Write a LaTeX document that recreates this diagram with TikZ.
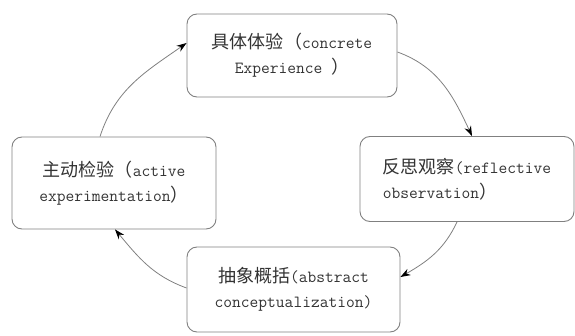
\documentclass[tikz,border=0pt]{standalone}
\usepackage{fontspec}
\newfontfamily\cjk[Scale=1.06]{Noto Sans CJK SC}
\usetikzlibrary{arrows.meta, positioning}

\begin{document}
\begin{tikzpicture}[
    x=1pt, y=1pt,
    stagebox/.style={rectangle, draw=black!50, line width=0.9pt, rounded corners=10pt, align=center, text=black!80, font=\ttfamily\fontsize{17}{25}\selectfont, inner sep=0pt},
    arrow/.style={-{Stealth[length=10pt, width=7pt, black]}, draw=black!50, line width=0.8pt}
]
\useasboundingbox (0,0) rectangle (575,335);

% Learning cycle stages
\node[stagebox, minimum width=210pt, minimum height=83pt] (concrete) at (292,279.5) {{\cjk 具体体验（}concrete\\Experience {\cjk ）}};
\node[stagebox, minimum width=214pt, minimum height=85pt, align=left] (reflective) at (467,156) {{\cjk 反思观察}(reflective\\observation{\cjk ）}};
\node[stagebox, minimum width=213pt, minimum height=85pt] (abstract) at (293.5,45.5) {{\cjk 抽象概括}(abstract\\conceptualization)};
\node[stagebox, minimum width=204pt, minimum height=92pt] (active) at (114,152) {{\cjk 主动检验（}active\\experimentation{\cjk ）}};

% Clockwise arrows
\draw[arrow] ([xshift=-14pt]active.north) to[out=72, in=215] ([yshift=12.5pt]concrete.west);
\draw[arrow] ([yshift=3.5pt]concrete.east) to[out=-20, in=115] ([xshift=5pt]reflective.north);
\draw[arrow] ([xshift=-10pt]reflective.south) to[out=245, in=30] ([yshift=12.5pt]abstract.east);
\draw[arrow] ([yshift=1.5pt]abstract.west) to[out=160, in=-50] ([xshift=1pt]active.south);

\end{tikzpicture}
\end{document}
